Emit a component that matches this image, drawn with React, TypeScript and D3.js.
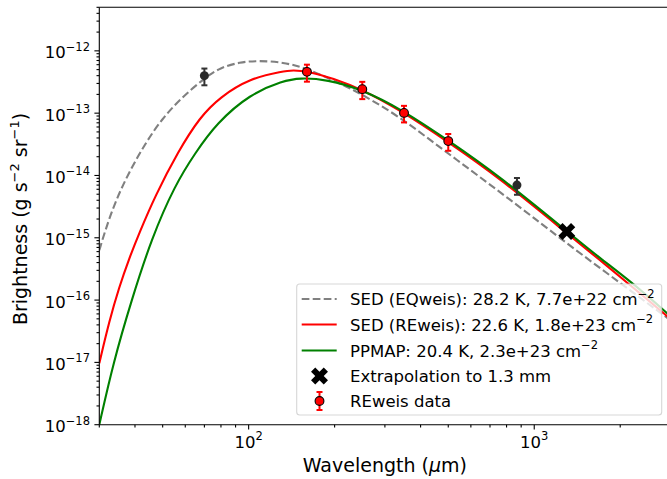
import React from 'react';
import * as d3 from 'd3';

const W = 667;
const H = 479;
const PL = 99.3, PR = 670.5, PT = 7.3, PB = 424.7;

// SED (EQweis) curve
const eqLambda = [30, 31.4, 34.0, 37.8, 43.3, 49.6, 58.2, 70.3, 79.4, 93.2, 107.8, 132, 160, 209, 249, 339, 442, 580, 759, 990, 1298, 2049, 3000];
const eqBright = [6.3e-16, 1.27e-15, 3.63e-15, 1.05e-14, 3.18e-14, 8.01e-14, 1.77e-13, 3.71e-13, 5.37e-13, 6.59e-13, 6.96e-13, 6.59e-13, 5.22e-13, 3.0e-13, 2.02e-13, 8.63e-14, 3.43e-14, 1.36e-14, 5.39e-15, 2.14e-15, 8.18e-16, 1.73e-16, 4.75e-17];

// SED (REweis) curve
const reLambda = [30, 32.5, 35.2, 38.2, 41.4, 47.0, 56.7, 67.5, 79.4, 101, 132, 143, 160, 198, 249, 339, 499, 759, 1298, 1699, 2133, 3000];
const reBright = [9.7e-18, 4.58e-17, 1.61e-16, 4.71e-16, 1.19e-15, 4.65e-15, 2.45e-14, 8.63e-14, 1.81e-13, 3.61e-13, 4.72e-13, 4.89e-13, 4.72e-13, 3.61e-13, 2.40e-13, 1.12e-13, 3.46e-14, 8.95e-15, 1.19e-15, 4.37e-16, 1.85e-16, 4.98e-17];

// PPMAP curve
const ppLambda = [30, 33.6, 38.9, 45.8, 55.2, 64.9, 77.3, 101, 132, 151, 188, 249, 339, 499, 759, 1298, 1699, 2222, 3000];
const ppBright = [1.0e-18, 1.0e-17, 1.0e-16, 1.0e-15, 6.98e-15, 2.28e-14, 6.92e-14, 2.02e-13, 3.30e-13, 3.69e-13, 3.47e-13, 2.40e-13, 1.19e-13, 3.69e-14, 9.57e-15, 1.28e-15, 4.70e-16, 1.85e-16, 5.52e-17];

// REweis data points
const redDataLambda = [160, 250, 350, 500];
const redDataValue = [4.6e-13, 2.43e-13, 1.01e-13, 3.56e-14];
const redDataErr = [1.4e-13, 0.75e-13, 0.3e-13, 1.07e-14];

// other data points (dark)
const darkDataLambda = [70, 870];
const darkDataValue = [4.0e-13, 7.0e-15];
const darkDataErr = [1.2e-13, 2.1e-15];

// extrapolation
const extrapLambda = [1300];
const extrapValue = [1.26e-15];

const xTickValues = [100, 1000];
const xTickExp = ['2', '3'];
const yTickValues = [1e-18, 1e-17, 1e-16, 1e-15, 1e-14, 1e-13, 1e-12];
const yTickExp = ['−18', '−17', '−16', '−15', '−14', '−13', '−12'];

const legendMain = ['SED (EQweis): 28.2 K, 7.7e+22 cm', 'SED (REweis): 22.6 K, 1.8e+23 cm', 'PPMAP: 20.4 K, 2.3e+23 cm', 'Extrapolation to 1.3 mm', 'REweis data'];
const legendSup = ['−2', '−2', '−2', '', ''];

const FONT = 'DejaVu Sans';

export default function App() {
  const x = d3.scaleLog().domain([30, 3000]).range([PL, PR]);
  const y = d3.scaleLog().domain([1e-18, 5e-12]).range([PB, PT]);

  const mkLine = (ls: number[], vs: number[]) =>
    d3.line<number>().x((_, i) => x(ls[i])).y((_, i) => y(vs[i])).curve(d3.curveBasis)(ls.map((_, i) => i)) || '';

  const xMinor: number[] = [];
  [10, 100, 1000].forEach((d) => {
    for (let k = 2; k <= 9; k++) {
      const v = k * d;
      if (v >= 30 && v <= 3000) xMinor.push(v);
    }
  });
  const yMinor: number[] = [];
  for (let e = -18; e <= -12; e++) {
    for (let k = 2; k <= 9; k++) {
      const v = k * Math.pow(10, e);
      if (v <= 5e-12) yMinor.push(v);
    }
  }

  const xSym = d3.symbol().type(d3.symbolCross).size(180)() || '';

  const errBar = (cx: number, v: number, e: number, color: string, key: string) => {
    const y1 = y(v + e), y2 = y(v - e);
    return (
      <g key={key} stroke={color} strokeWidth={2}>
        <line x1={cx} x2={cx} y1={y1} y2={y2} />
        <line x1={cx - 3} x2={cx + 3} y1={y1} y2={y1} />
        <line x1={cx - 3} x2={cx + 3} y1={y2} y2={y2} />
      </g>
    );
  };

  const legX = 296.7, legY = 284, legW = 365, legH = 131;
  const rowY = [299, 324.5, 350.5, 376, 401];

  return (
    <svg width={W} height={H} style={{ position: 'absolute', left: 0, top: 0, background: '#fff' }} fontFamily={FONT}>
      <defs>
        <clipPath id="plotclip">
          <rect x={PL} y={PT} width={PR - PL} height={PB - PT} />
        </clipPath>
      </defs>
      <rect x={0} y={0} width={W} height={H} fill="#fff" />

      <g clipPath="url(#plotclip)" fill="none" strokeWidth={2.1}>
        <path d={mkLine(eqLambda, eqBright)} stroke="#808080" strokeDasharray="7.7,3.3" />
        <path d={mkLine(reLambda, reBright)} stroke="#ff0000" />
        <path d={mkLine(ppLambda, ppBright)} stroke="#008000" />
      </g>

      {/* dark data */}
      {darkDataLambda.map((l, i) => errBar(x(l), darkDataValue[i], darkDataErr[i], '#333', 'de' + i))}
      {darkDataLambda.map((l, i) => (
        <circle key={'dc' + i} cx={x(l)} cy={y(darkDataValue[i])} r={4.5} fill="#2a2a2a" />
      ))}
      {/* red data */}
      {redDataLambda.map((l, i) => errBar(x(l), redDataValue[i], redDataErr[i], '#ff0000', 're' + i))}
      {redDataLambda.map((l, i) => (
        <circle key={'rc' + i} cx={x(l)} cy={y(redDataValue[i])} r={4.4} fill="#ff0000" stroke="#000" strokeWidth={1.1} />
      ))}
      {extrapLambda.map((l, i) => (
        <path key={'x' + i} d={xSym} transform={`translate(${x(l)},${y(extrapValue[i])}) rotate(45)`} fill="#000" />
      ))}

      {/* spines */}
      <g stroke="#000" strokeWidth={1.1}>
        <line x1={PL} x2={PL} y1={PT} y2={PB} />
        <line x1={PL} x2={W} y1={PB} y2={PB} />
        <line x1={PL} x2={W} y1={PT} y2={PT} />
      </g>

      {/* ticks */}
      <g stroke="#000" strokeWidth={1.1}>
        {xTickValues.map((v) => (
          <line key={'xt' + v} x1={x(v)} x2={x(v)} y1={PB} y2={PB + 4.9} />
        ))}
        {xMinor.map((v) => (
          <line key={'xm' + v} x1={x(v)} x2={x(v)} y1={PB} y2={PB + 2.8} />
        ))}
        {yTickValues.map((v) => (
          <line key={'yt' + v} x1={PL - 4.9} x2={PL} y1={y(v)} y2={y(v)} />
        ))}
        {yMinor.map((v, i) => (
          <line key={'ym' + i} x1={PL - 2.8} x2={PL} y1={y(v)} y2={y(v)} />
        ))}
      </g>

      {/* tick labels */}
      <g fontSize={16.5} fill="#000">
        {xTickValues.map((v, i) => (
          <text key={'xl' + v} x={x(v)} y={448} textAnchor="middle">
            10<tspan dy={-7.6} fontSize={11.5}>{xTickExp[i]}</tspan>
          </text>
        ))}
        {yTickValues.map((v, i) => (
          <text key={'yl' + v} x={90} y={y(v) + 7.6} textAnchor="end">
            10<tspan dy={-7.6} fontSize={11.5}>{yTickExp[i]}</tspan>
          </text>
        ))}
      </g>

      {/* axis labels */}
      <text x={(PL + PR) / 2} y={472} textAnchor="middle" fontSize={19} style={{ whiteSpace: 'pre' }}>
        Wavelength (<tspan fontStyle="italic">μ</tspan>m)
      </text>
      <text transform="translate(27,219) rotate(-90)" textAnchor="middle" fontSize={19} style={{ whiteSpace: 'pre' }}>
        Brightness (g s<tspan dy={-8.5} fontSize={13}>−2</tspan><tspan dy={8.5}> sr</tspan><tspan dy={-8.5} fontSize={13}>−1</tspan><tspan dy={8.5}>)</tspan>
      </text>

      {/* legend */}
      <rect x={legX} y={legY} width={legW} height={legH} rx={3} fill="#fff" fillOpacity={0.8} stroke="#cccccc" strokeOpacity={0.8} strokeWidth={1.1} />
      <g strokeWidth={2.1} fill="none">
        <line x1={301.7} x2={336.7} y1={rowY[0]} y2={rowY[0]} stroke="#808080" strokeDasharray="7.7,3.3" />
        <line x1={301.7} x2={336.7} y1={rowY[1]} y2={rowY[1]} stroke="#ff0000" />
        <line x1={301.7} x2={336.7} y1={rowY[2]} y2={rowY[2]} stroke="#008000" />
      </g>
      <path d={xSym} transform={`translate(319.5,${rowY[3]}) rotate(45)`} fill="#000" />
      <g stroke="#ff0000" strokeWidth={2}>
        <line x1={319.5} x2={319.5} y1={rowY[4] - 9} y2={rowY[4] + 9} />
        <line x1={316.5} x2={322.5} y1={rowY[4] - 9} y2={rowY[4] - 9} />
        <line x1={316.5} x2={322.5} y1={rowY[4] + 9} y2={rowY[4] + 9} />
      </g>
      <circle cx={319.5} cy={rowY[4]} r={4.4} fill="#ff0000" stroke="#000" strokeWidth={1.1} />
      <g fontSize={16.5} fill="#000">
        {legendMain.map((t, i) => (
          <text key={'lg' + i} x={350} y={rowY[i] + 6.3} style={{ whiteSpace: 'pre' }}>
            {t}
            {legendSup[i] ? <tspan dy={-7.6} fontSize={11.5}>{legendSup[i]}</tspan> : null}
          </text>
        ))}
      </g>
    </svg>
  );
}
